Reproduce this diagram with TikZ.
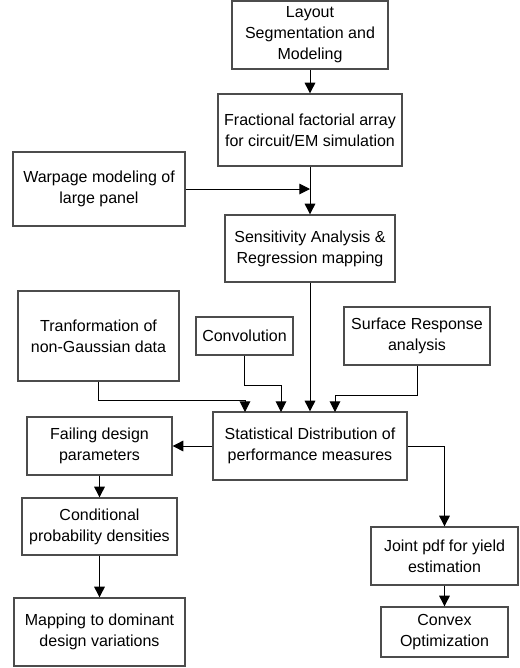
\documentclass[tikz,border=0pt]{standalone}
\usepackage{fontspec}
\setmainfont{Liberation Sans}
\usepackage{tikz}
\usetikzlibrary{positioning, arrows.meta, shapes.geometric}

\begin{document}
\begin{tikzpicture}[x=0.75pt, y=-0.75pt]
    \tikzstyle{block} = [rectangle, draw=black!70, line width=1pt, align=center, inner sep=0pt, font=\fontsize{12pt}{15.75pt}\selectfont]
    \tikzstyle{arrow} = [line width=0.75pt, -{Triangle[length=8pt, width=8pt]}]

    \useasboundingbox (0,0) rectangle (520,668);

    \node [block, minimum width=156*0.75pt, minimum height=68*0.75pt] (layout) at (310,35) {Layout\\Segmentation and\\Modeling};
    \node [block, minimum width=184*0.75pt, minimum height=72*0.75pt] (frac) at (310,130) {Fractional factorial array\\for circuit/EM simulation};
    \node [block, minimum width=172*0.75pt, minimum height=74*0.75pt] (warp) at (99,189) {Warpage modeling of\\large panel};
    \node [block, minimum width=170*0.75pt, minimum height=67*0.75pt] (sens) at (310,248.5) {Sensitivity Analysis \&\\Regression mapping};
    \node [block, minimum width=161*0.75pt, minimum height=90*0.75pt] (tran) at (98.5,336) {Tranformation of\\non-Gaussian data};
    \node [block, minimum width=97*0.75pt, minimum height=38*0.75pt] (conv) at (244.5,336) {Convolution};
    \node [block, minimum width=146*0.75pt, minimum height=58*0.75pt] (surf) at (417,336) {Surface Response\\analysis};
    \node [block, minimum width=194*0.75pt, minimum height=68*0.75pt] (stat) at (310,446) {Statistical Distribution of\\performance measures};
    \node [block, minimum width=145*0.75pt, minimum height=58*0.75pt] (fail) at (99.5,446) {Failing design\\parameters};
    \node [block, minimum width=155*0.75pt, minimum height=57*0.75pt] (cond) at (99.5,526.5) {Conditional\\probability densities};
    \node [block, minimum width=171*0.75pt, minimum height=68*0.75pt] (map) at (99.5,632) {Mapping to dominant\\design variations};
    \node [block, minimum width=147*0.75pt, minimum height=58*0.75pt] (joint) at (444.5,556) {Joint pdf for yield\\estimation};
    \node [block, minimum width=127*0.75pt, minimum height=50*0.75pt] (convex) at (444.5,632) {Convex\\Optimization};

    \coordinate (in1) at (245,412);
    \coordinate (in2) at (281,412);
    \coordinate (in4) at (335,412);

    \draw [arrow] (layout) -- (frac);
    \draw [arrow] (frac) -- (sens);
    \draw [arrow] (warp.east) -- (warp.east -| frac.south);
    \draw [arrow] (sens) -- (stat);
    \draw [arrow] (tran.south) -- ++(0,19) -| (in1);
    \draw [arrow] (conv.south) -- ++(0,30) -| (in2);
    \draw [arrow] (surf.south) -- ++(0,30) -| (in4);
    \draw [arrow] (stat) -- (fail);
    \draw [arrow] (stat.east) -| (joint.north);
    \draw [arrow] (fail) -- (cond);
    \draw [arrow] (cond) -- (map);
    \draw [arrow] (joint) -- (convex);
\end{tikzpicture}
\end{document}
